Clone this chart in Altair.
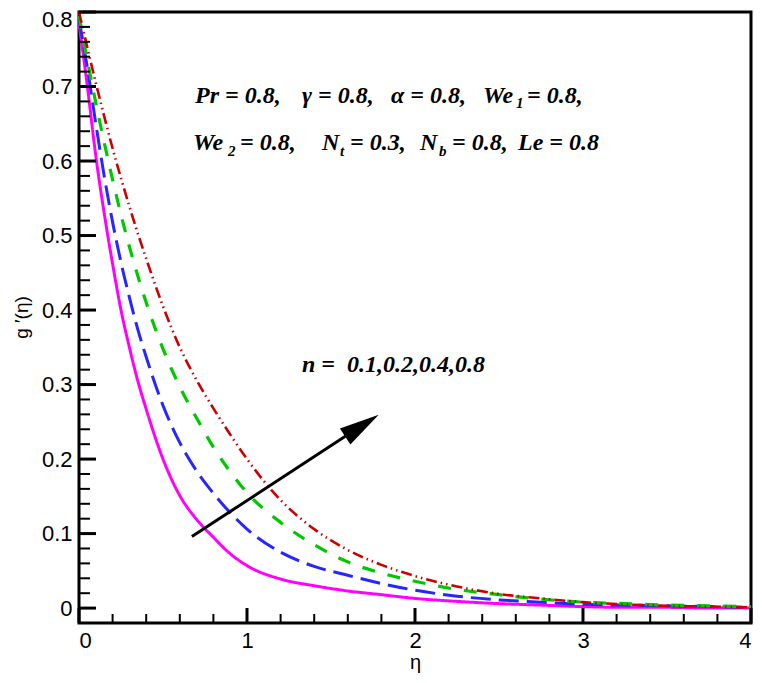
import altair as alt
import pandas as pd

# ---------------- data ----------------
eta = [0, 0.05, 0.1, 0.15, 0.2, 0.25, 0.3, 0.35, 0.4, 0.5, 0.6, 0.7, 0.8, 0.9, 1.0,
       1.2, 1.4, 1.6, 1.8, 2.0, 2.25, 2.5, 2.75, 3.0, 3.25, 3.5, 3.75, 4.0]

g_n01 = [0.785, 0.700, 0.607, 0.530, 0.462, 0.400, 0.350, 0.305, 0.267, 0.200, 0.151,
         0.119, 0.095, 0.073, 0.057, 0.039, 0.030, 0.023, 0.018, 0.013, 0.009, 0.006,
         0.004, 0.002, 0.001, 0.001, 0.0, 0.0]
g_n02 = [0.790, 0.725, 0.650, 0.580, 0.518, 0.464, 0.417, 0.374, 0.337, 0.272, 0.222,
         0.184, 0.154, 0.128, 0.106, 0.075, 0.056, 0.044, 0.033, 0.024, 0.016, 0.011,
         0.008, 0.005, 0.004, 0.003, 0.002, 0.001]
g_n04 = [0.795, 0.735, 0.678, 0.625, 0.575, 0.528, 0.485, 0.446, 0.410, 0.348, 0.297,
         0.255, 0.216, 0.183, 0.155, 0.115, 0.085, 0.062, 0.047, 0.036, 0.025, 0.018,
         0.012, 0.008, 0.006, 0.004, 0.003, 0.002]
g_n08 = [0.800, 0.752, 0.705, 0.660, 0.617, 0.577, 0.539, 0.503, 0.469, 0.405, 0.350,
         0.306, 0.268, 0.233, 0.200, 0.145, 0.106, 0.078, 0.058, 0.043, 0.029, 0.019,
         0.013, 0.008, 0.005, 0.003, 0.002, 0.001]

series_names = ["n = 0.1", "n = 0.2", "n = 0.4", "n = 0.8"]
series_values = [g_n01, g_n02, g_n04, g_n08]
series_colors = ["#FF00FF", "#2626FF", "#00C800", "#CC0000"]
series_dash = [[1, 0], [20, 8], [13, 13], [11, 4, 1.5, 4, 1.5, 4]]
series_width = [3, 3, 3.2, 2.6]

x_major = [0, 1, 2, 3, 4]
x_minor = [0.2, 0.4, 0.6, 0.8, 1.2, 1.4, 1.6, 1.8, 2.2, 2.4, 2.6, 2.8,
           3.2, 3.4, 3.6, 3.8]
y_major = [0, 0.1, 0.2, 0.3, 0.4, 0.5, 0.6, 0.7, 0.8]
y_minor = [round(0.02 * i, 2) for i in range(1, 40) if i % 5 != 0]

arrow_start = [0.672, 0.096]
arrow_shaft_end = [1.69, 0.246]
arrow_tip = [1.784, 0.2595]

# annotation segments (text, left x px, baseline y px in page coords)
ann_text = ["Pr = 0.8,", "γ = 0.8,", "α = 0.8,", "We", "= 0.8,",
            "We", "= 0.8,", "N", "= 0.3,", "N", "= 0.8,", "Le = 0.8",
            "n =", "0.1,0.2,0.4,0.8"]
sub_text = ["1", "2", "t", "b"]

W, H = 672, 611
X0, Y0 = 79, 12
ann_x = [195, 302, 391, 483, 527, 193, 240, 322, 350, 420, 452, 518, 302, 347]
ann_y = [103, 103, 103, 103, 103, 150, 150, 150, 150, 150, 150, 150, 372, 372]
sub_x = [516, 228, 340, 439]
sub_y = [108, 156, 156, 156]

# ---------------- chart ----------------
xscale = alt.Scale(domain=[0, 4], nice=False, zero=False)
yscale = alt.Scale(domain=[-0.02, 0.8], nice=False, zero=False)

xaxis = alt.Axis(values=x_major, format="d", title="η", ticks=False, domain=False,
                 grid=False, labelFontSize=22, labelPadding=7, labelColor="black",
                 labelFont="Liberation Sans", titleFont="Liberation Sans",
                 titleFontSize=20, titleFontWeight="normal", titleColor="black",
                 titleY=45, titleBaseline="alphabetic")
yaxis = alt.Axis(values=y_major, format=".1~f", title="g ′(η)", ticks=False,
                 domain=False, grid=False, labelFontSize=22, labelPadding=7,
                 labelColor="black", labelFont="Liberation Sans",
                 labelOffset={"condition": {"test": "datum.value >= 0.79", "value": 7},
                              "value": 0},
                 titleFont="Liberation Sans", titleFontSize=19,
                 titleFontWeight="normal", titleColor="black", titleAngle=270,
                 titleX=-58, titleY=305, titleBaseline="middle", titleAlign="center")

X = alt.X("eta:Q", scale=xscale, axis=xaxis)
Y = alt.Y("g:Q", scale=yscale, axis=yaxis)

layers = []
for i, (name, vals) in enumerate(zip(series_names, series_values)):
    df = pd.DataFrame({"eta": eta, "g": vals, "series": name})
    layers.append(
        alt.Chart(df).mark_line(color=series_colors[i], strokeDash=series_dash[i],
                                strokeWidth=series_width[i], interpolate="monotone")
        .encode(x=X, y=Y)
    )

# inward ticks
yt_maj = alt.Chart(pd.DataFrame({"g": y_major})).mark_rule(color="black", strokeWidth=3).encode(
    y=Y, x=alt.value(0), x2=alt.value(17))
yt_min = alt.Chart(pd.DataFrame({"g": y_minor})).mark_rule(color="black", strokeWidth=2).encode(
    y=Y, x=alt.value(0), x2=alt.value(11))
xt_maj = alt.Chart(pd.DataFrame({"eta": x_major})).mark_rule(color="black", strokeWidth=3).encode(
    x=X, y=alt.value(H), y2=alt.value(H - 15))
xt_min = alt.Chart(pd.DataFrame({"eta": x_minor})).mark_rule(color="black", strokeWidth=2).encode(
    x=X, y=alt.value(H), y2=alt.value(H - 9))

# arrow
shaft = alt.Chart(pd.DataFrame({"eta": [arrow_start[0]], "g": [arrow_start[1]],
                                "eta2": [arrow_shaft_end[0]], "g2": [arrow_shaft_end[1]]})
                  ).mark_rule(color="black", strokeWidth=3).encode(
    x=X, y=Y, x2="eta2:Q", y2="g2:Q")
head = alt.Chart(pd.DataFrame({"eta": [arrow_tip[0]], "g": [arrow_tip[1]]})).mark_point(
    shape="M0,0L0.48,2L-0.48,2Z", size=1600, filled=True, color="black", opacity=1,
    angle=57).encode(x=X, y=Y)

# annotations
ann_layers = []
for t, x, y in zip(ann_text, ann_x, ann_y):
    ann_layers.append(
        alt.Chart(pd.DataFrame({"t": [t]})).mark_text(
            font="Liberation Serif", fontSize=24, fontStyle="italic", fontWeight="bold",
            align="left", baseline="alphabetic", color="black").encode(
            text="t:N", x=alt.value(x - X0), y=alt.value(y - Y0)))
for t, x, y in zip(sub_text, sub_x, sub_y):
    ann_layers.append(
        alt.Chart(pd.DataFrame({"t": [t]})).mark_text(
            font="Liberation Serif", fontSize=15, fontStyle="italic", fontWeight="bold",
            align="left", baseline="alphabetic", color="black").encode(
            text="t:N", x=alt.value(x - X0), y=alt.value(y - Y0)))

chart = alt.layer(*layers, yt_maj, yt_min, xt_maj, xt_min, shaft, head, *ann_layers).properties(
    width=W, height=H,
    autosize=alt.AutoSizeParams(type="none"),
    padding={"left": 71, "top": 4, "right": 3, "bottom": 52},
    background="white",
).configure_view(stroke="black", strokeWidth=3)

chart.save("out.html", embed_options={"renderer": "svg", "actions": False})
